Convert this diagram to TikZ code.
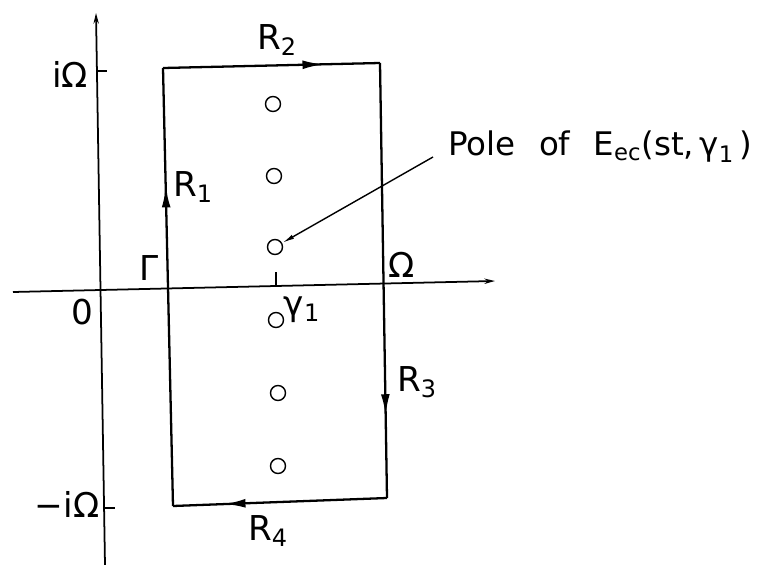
\documentclass[tikz,border=0pt]{standalone}
\usepackage{fontspec}
\setmainfont{DejaVu Sans}
\usetikzlibrary{arrows.meta,positioning,decorations.markings}

\begin{document}
\begin{tikzpicture}[
  x=0.02cm, y=-0.02cm,
  font=\fontsize{19.5}{22}\selectfont,
  axis/.style={line width=1pt, -{Stealth[length=6pt,width=3pt]}},
  edge/.style={line width=1.3pt},
  pole/.style={draw, circle, line width=0.8pt, minimum size=0.3cm, inner sep=0pt},
  lbl/.style={inner sep=0pt},
  marr/.style={postaction={decorate}, decoration={markings,
    mark=at position #1 with {\arrow{Latex[length=12pt,width=5pt]}}}},
  lead/.style={line width=0.8pt, -{Latex[length=7pt,width=2.5pt]}}
]
\useasboundingbox (0,0) rectangle (762,565);

% axes
\coordinate (ybot) at (105,565);
\coordinate (ytop) at (96,13);
\coordinate (xl) at (13,292);
\coordinate (xr) at (495,281);
\draw[axis] (ybot) -- (ytop);
\draw[axis] (xl) -- (xr);

% ticks
\coordinate (tua) at (96,71);  \coordinate (tub) at (107,71);
\coordinate (tla) at (103,508); \coordinate (tlb) at (115,508);
\coordinate (tga) at (276,272); \coordinate (tgb) at (276,286);
\draw[line width=1pt] (tua) -- (tub);
\draw[line width=1pt] (tla) -- (tlb);
\draw[line width=1pt] (tga) -- (tgb);

% contour
\coordinate (c1) at (173,506);
\coordinate (c2) at (163,68);
\coordinate (c3) at (380,63);
\coordinate (c4) at (387,498);
\draw[edge, marr=0.73] (c1) -- (c2);
\draw[edge, marr=0.74] (c2) -- (c3);
\draw[edge, marr=0.81] (c3) -- (c4);
\draw[edge, marr=0.76] (c4) -- (c1);

% poles
\node[pole] (p1) at (273,104) {};
\node[pole] (p2) at (274,176) {};
\node[pole] (p3) at (275,247) {};
\node[pole] (p4) at (276,320) {};
\node[pole] (p5) at (278,393) {};
\node[pole] (p6) at (278,466) {};

% labels
\node[lbl] (iom) at (70,74) {iΩ};
\node[lbl] (miom) at (67,504) {−iΩ};
\node[lbl] (zero) at (82,312) {0};
\node[lbl] (gam) at (149,268) {Γ};
\node[lbl] (om) at (402,265) {Ω};
\node[lbl] (g1) at (302,310) {γ\textsubscript{1}};
\node[lbl] (r1) at (193,187) {R\textsubscript{1}};
\node[lbl] (r2) at (277,40) {R\textsubscript{2}};
\node[lbl] (r3) at (417,382) {R\textsubscript{3}};
\node[lbl] (r4) at (268,531) {R\textsubscript{4}};
\node[lbl, anchor=west, font=\fontsize{18.5}{22}\selectfont] (poletxt) at (448,147)
  {Pole\hspace{0.4em} of\hspace{0.4em} E\textsubscript{ec}(st,\,γ\textsubscript{1}\,)};

% leader
\coordinate (ld) at (433,157);
\draw[lead] (ld) -- (p3);
\end{tikzpicture}
\end{document}
